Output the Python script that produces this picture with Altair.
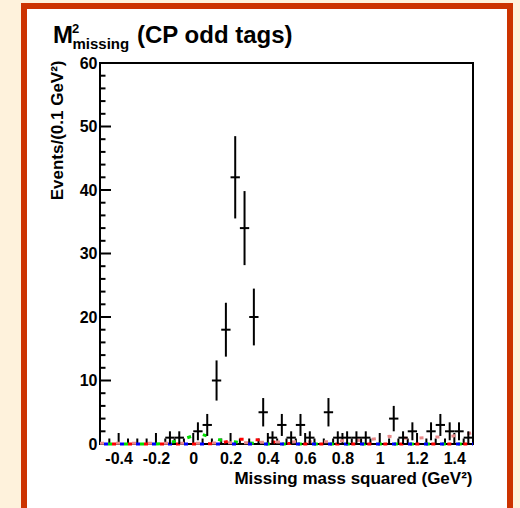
import altair as alt
import pandas as pd
import numpy as np

# ---------------- data ----------------
bin_centers = [-0.475, -0.425, -0.375, -0.325, -0.275, -0.225, -0.175, -0.125, -0.075, -0.025,
               0.025, 0.075, 0.125, 0.175, 0.225, 0.275, 0.325, 0.375, 0.425, 0.475,
               0.525, 0.575, 0.625, 0.675, 0.725, 0.775, 0.825, 0.875, 0.925, 0.975,
               1.025, 1.075, 1.125, 1.175, 1.225, 1.275, 1.325, 1.375, 1.425, 1.475]
counts = [0, 0, 0, 0, 0, 0, 0, 1, 1, 0,
          2, 3, 10, 18, 42, 34, 20, 5, 1, 3,
          1, 3, 1, 0, 5, 1, 1, 1, 1, 0,
          0, 4, 1, 2, 0, 2, 3, 2, 2, 1]
half_bin = 0.025

curve_x = [-0.5, -0.45, -0.4, -0.35, -0.3, -0.25, -0.2, -0.15, -0.1, -0.05,
           0.0, 0.05, 0.1, 0.15, 0.2, 0.25, 0.3, 0.35, 0.4, 0.45,
           0.5, 0.55, 0.6, 0.65, 0.7, 0.75, 0.8, 0.85, 0.9, 0.95,
           1.0, 1.05, 1.1, 1.15, 1.2, 1.25, 1.3, 1.35, 1.4, 1.45, 1.5]
comp_pink = [0.1, 0.1, 0.1, 0.1, 0.1, 0.1, 0.1, 0.1, 0.1, 0.1,
             0.1, 0.15, 0.15, 0.2, 0.2, 0.2, 0.2, 0.25, 0.3, 0.3,
             0.3, 0.35, 0.3, 0.35, 0.35, 0.4, 0.5, 0.5, 0.6, 0.7,
             0.9, 1.2, 1.0, 0.9, 0.9, 1.0, 1.1, 1.1, 1.3, 1.5, 1.8]
comp_red = [0, 0, 0, 0, 0, 0, 0, 0, 0, 0,
            0, 0, 0.05, 0.2, 0.5, 0.75, 0.75, 0.65, 0.4, 0.25,
            0.1, 0.05, 0, 0, 0, 0, 0, 0, 0, 0,
            0, 0, 0, 0, 0, 0, 0, 0, 0, 0, 0]
comp_green = [0, 0, 0, 0, 0, 0, 0, 0.1, 0.4, 0.8,
              1.3, 1.5, 1.0, 0.6, 0.4, 0.25, 0.15, 0.05, 0, 0,
              0, 0, 0, 0, 0, 0, 0, 0, 0, 0,
              0, 0, 0, 0, 0, 0, 0, 0, 0, 0, 0]
comp_blue = [0] * 41

x_major = [-0.4, -0.2, 0, 0.2, 0.4, 0.6, 0.8, 1, 1.2, 1.4]
x_minor = [-0.45, -0.35, -0.3, -0.25, -0.15, -0.1, -0.05, 0.05, 0.1, 0.15,
           0.25, 0.3, 0.35, 0.45, 0.5, 0.55, 0.65, 0.7, 0.75, 0.85,
           0.9, 0.95, 1.05, 1.1, 1.15, 1.25, 1.3, 1.35, 1.45]
y_major = [0, 10, 20, 30, 40, 50, 60]
y_minor = [2, 4, 6, 8, 12, 14, 16, 18, 22, 24, 26, 28, 32, 34, 36, 38,
           42, 44, 46, 48, 52, 54, 56, 58]

title_main = "M"
title_sup = "2"
title_sub = "missing"
title_rest = "(CP odd tags)"
x_title = "Missing mass squared (GeV²)"
y_title = "Events/(0.1 GeV²)"

# ---------------- styling ----------------
FONT = "Liberation Sans"
W, H = 373, 381
cream = "#FEF2DC"
frame_red = "#CC3300"

hist = pd.DataFrame({"x": bin_centers, "n": counts})
hist["err"] = np.sqrt(hist["n"])
hist["lo"] = hist["n"] - hist["err"]
hist["hi"] = hist["n"] + hist["err"]
hist["xl"] = hist["x"] - half_bin
hist["xr"] = hist["x"] + half_bin
hist = hist[hist["n"] > 0]

xscale = alt.Scale(domain=[-0.5, 1.5], nice=False, zero=False)
yscale = alt.Scale(domain=[0, 60], nice=False, zero=False)

xaxis = alt.Axis(values=x_major, labelExpr="'' + datum.value", domain=False, ticks=False,
                 grid=False, labelFont=FONT, labelFontSize=16, labelFontWeight="bold",
                 labelColor="black", labelPadding=6, labelFlush=False, labelOverlap=False,
                 title=x_title, titleFont=FONT, titleFontSize=17, titleFontWeight="bold",
                 titleColor="black", titleX=372, titleY=39, titleAlign="right",
                 titleBaseline="alphabetic", zindex=1)
yaxis = alt.Axis(values=y_major, domain=False, ticks=False, grid=False, labelFont=FONT,
                 labelFontSize=16, labelFontWeight="bold", labelColor="black",
                 labelPadding=3, labelOverlap=False, title=y_title, titleFont=FONT,
                 titleFontSize=17, titleFontWeight="bold", titleColor="black",
                 titleAngle=270, titleX=-37.5, titleY=-3, titleAlign="right",
                 titleBaseline="alphabetic", zindex=1)

X = alt.X("x:Q", scale=xscale, axis=xaxis)
Y = alt.Y("y:Q", scale=yscale, axis=yaxis)

one = pd.DataFrame({"a": [0]})

outer = alt.Chart(one).mark_rect(color=frame_red).encode(
    x=alt.value(-79), x2=alt.value(413), y=alt.value(-60), y2=alt.value(470))
inner = alt.Chart(one).mark_rect(color="white").encode(
    x=alt.value(-73), x2=alt.value(407), y=alt.value(-54), y2=alt.value(470))

xt_major = alt.Chart(pd.DataFrame({"x": x_major})).mark_rule(color="black", strokeWidth=2).encode(
    x=X, y=alt.value(H), y2=alt.value(H - 11))
xt_minor = alt.Chart(pd.DataFrame({"x": x_minor})).mark_rule(color="black", strokeWidth=2).encode(
    x=X, y=alt.value(H), y2=alt.value(H - 5.5))
yt_major = alt.Chart(pd.DataFrame({"y": y_major})).mark_rule(color="black", strokeWidth=2).encode(
    y=Y, x=alt.value(0), x2=alt.value(11))
yt_minor = alt.Chart(pd.DataFrame({"y": y_minor})).mark_rule(color="black", strokeWidth=2).encode(
    y=Y, x=alt.value(0), x2=alt.value(5.5))

frame = alt.Chart(one).mark_rect(fill="white", fillOpacity=0, stroke="black", strokeWidth=2).encode(
    x=alt.value(0), x2=alt.value(W), y=alt.value(0), y2=alt.value(H))

curves = []
for vals, col, off in [(comp_pink, "#E8898A", 0), (comp_red, "#FF0000", 4),
                       (comp_green, "#00E000", 8), (comp_blue, "#0000FF", 12)]:
    df = pd.DataFrame({"x": curve_x, "y": vals})
    curves.append(alt.Chart(df).mark_line(color=col, strokeWidth=3, strokeDash=[4, 12],
                                          strokeDashOffset=off).encode(x=X, y=Y))

vbars = alt.Chart(hist).mark_rule(color="black", strokeWidth=2).encode(
    x=X, y=alt.Y("lo:Q", scale=yscale, axis=yaxis), y2="hi:Q")
hbars = alt.Chart(hist).mark_rule(color="black", strokeWidth=2).encode(
    x=alt.X("xl:Q", scale=xscale, axis=xaxis), x2="xr:Q",
    y=alt.Y("n:Q", scale=yscale, axis=yaxis))

def txt(s, x, y, size, weight="bold"):
    return alt.Chart(one).mark_text(align="left", baseline="alphabetic", font=FONT,
                                    fontSize=size, fontWeight=weight, color="black").encode(
        x=alt.value(x), y=alt.value(y), text=alt.value(s))

titles = [txt(title_main, -47, -20, 24), txt(title_sup, -28, -30, 13),
          txt(title_sub, -27.5, -14, 15), txt(title_rest, 37, -20, 24)]

chart = alt.layer(outer, inner, xt_major, xt_minor, yt_major, yt_minor, frame,
                  *curves, vbars, hbars, *titles).properties(
    width=W, height=H, background=cream, autosize="none",
    padding={"left": 100, "top": 63, "right": 47, "bottom": 64},
).configure_view(strokeWidth=0)

chart.save("out.html", embed_options={"renderer": "svg", "actions": False})
